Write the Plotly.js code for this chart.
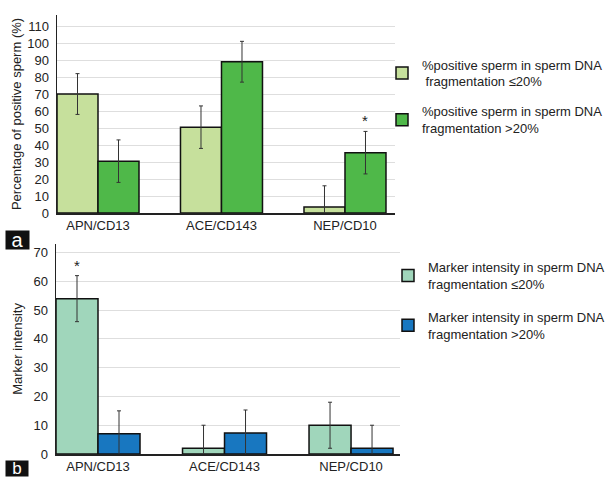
<!DOCTYPE html>
<html>
<head>
<meta charset="utf-8">
<script src="https://cdn.plot.ly/plotly-3.0.1.min.js"></script>
<style>html,body{margin:0;padding:0;background:#fff;}#chart{width:610px;height:477px;}</style>
</head>
<body>
<div id="chart"></div>
<script>
// ---- data ----
const categories = ["APN/CD13", "ACE/CD143", "NEP/CD10"];

const pctLowFrag = [70, 50.5, 3.5];
const pctLowFragErr = [12, 12.5, 12.5];
const pctHighFrag = [30.5, 89, 35.5];
const pctHighFragErr = [12.5, 12, 12.5];

const intLowFrag = [54, 2, 10];
const intLowFragErr = [8, 8, 8];
const intHighFrag = [7, 7.3, 2];
const intHighFragErr = [8, 8, 8];

const topTicks = [0,10,20,30,40,50,60,70,80,90,100,110];
const bottomTicks = [0,10,20,30,40,50,60,70];

const nameTop1 = "%positive sperm in sperm DNA<br>\u00a0fragmentation \u226420%";
const nameTop2 = "%positive sperm in sperm DNA<br>fragmentation >20%";
const nameBot1 = "Marker intensity in sperm DNA<br>fragmentation \u226420%";
const nameBot2 = "Marker intensity in sperm DNA<br>fragmentation >20%";

// ---- style ----
const FONT = "Liberation Sans, Arial, sans-serif";
const errStyle = (arr) => ({type:"data", array:arr, visible:true, color:"#333", thickness:1, width:2});
const outline = {color:"#111", width:1.5};

const traces = [
  {type:"bar", x:categories, y:pctLowFrag, name:nameTop1, xaxis:"x", yaxis:"y",
   marker:{color:"#c6e09c", line:outline}, error_y:errStyle(pctLowFragErr), legend:"legend", legendgroup:"a1"},
  {type:"bar", x:categories, y:pctHighFrag, name:nameTop2, xaxis:"x", yaxis:"y",
   marker:{color:"#4fb849", line:outline}, error_y:errStyle(pctHighFragErr), legend:"legend", legendgroup:"a2"},
  {type:"bar", x:categories, y:intLowFrag, name:nameBot1, xaxis:"x2", yaxis:"y2",
   marker:{color:"#a0d6bb", line:outline}, error_y:errStyle(intLowFragErr), legend:"legend2", legendgroup:"b1"},
  {type:"bar", x:categories, y:intHighFrag, name:nameBot2, xaxis:"x2", yaxis:"y2",
   marker:{color:"#1877c0", line:outline}, error_y:errStyle(intHighFragErr), legend:"legend2", legendgroup:"b2"}
];

const W = 344, H = 439; // plot area (l=56, t=15)
const px = (x) => (x - 56) / W;
const py = (y) => (454 - y) / H;

const xcommon = {type:"category", showgrid:false, showline:true, linecolor:"#222", linewidth:1.5,
  ticks:"", tickfont:{family:FONT, size:13, color:"#222"}, fixedrange:true, zeroline:false};
const ycommon = {showgrid:true, gridcolor:"#dedede", gridwidth:1, showline:true, linecolor:"#222", linewidth:1.5,
  ticks:"", tickfont:{family:FONT, size:13, color:"#222"}, zeroline:false, ticklabelstandoff:4};

const layout = {
  width:610, height:477,
  margin:{l:56, r:210, t:15, b:23, autoexpand:false},
  paper_bgcolor:"#fff", plot_bgcolor:"#fff",
  font:{family:FONT, size:13, color:"#222"},
  barmode:"group", bargap:0.336, bargroupgap:0,
  showlegend:true,
  xaxis:Object.assign({}, xcommon, {domain:[px(57), px(395)], range:[-0.332, 2.405], anchor:"y"}),
  yaxis:Object.assign({}, ycommon, {domain:[py(213), 1], range:[0, 116.5], tickvals:topTicks, anchor:"x",
    title:{text:"Percentage of positive sperm (%)", font:{family:FONT, size:13, color:"#222"}, standoff:2}}),
  xaxis2:Object.assign({}, xcommon, {domain:[0, 1], range:[-0.332, 2.387], anchor:"y2"}),
  yaxis2:Object.assign({}, ycommon, {domain:[0, py(244)], range:[0, 73], tickvals:bottomTicks, anchor:"x2",
    title:{text:"Marker intensity", font:{family:FONT, size:13, color:"#222"}, standoff:8}}),
  legend:{x:px(382), y:py(49.5), xanchor:"left", yanchor:"top", bgcolor:"rgba(0,0,0,0)",
    font:{family:FONT, size:13, color:"#222"}, tracegroupgap:10, traceorder:"grouped", itemwidth:30},
  legend2:{x:px(388), y:py(252), xanchor:"left", yanchor:"top", bgcolor:"rgba(0,0,0,0)",
    font:{family:FONT, size:13, color:"#222"}, tracegroupgap:13, traceorder:"grouped", itemwidth:30},
  annotations:[
    {xref:"x", yref:"y", x:2, y:pctHighFrag[2] + pctHighFragErr[2], text:"*", showarrow:false,
     xshift:20.5, yanchor:"bottom", font:{family:FONT, size:15, color:"#222"}},
    {xref:"x2", yref:"y2", x:0, y:intLowFrag[0] + intLowFragErr[0], text:"*", showarrow:false,
     xshift:-21, yanchor:"bottom", font:{family:FONT, size:15, color:"#222"}},
    {xref:"paper", yref:"paper", x:px(17.5), y:py(240), text:"a", showarrow:false, bgcolor:"#111",
     font:{family:FONT, size:20, color:"#fff"}, borderpad:0, width:23, height:18, xanchor:"center", yanchor:"middle"},
    {xref:"paper", yref:"paper", x:px(17), y:py(468), text:"b", showarrow:false, bgcolor:"#111",
     font:{family:FONT, size:17, color:"#fff"}, borderpad:0, width:22, height:15, xanchor:"center", yanchor:"middle"}
  ]
};

Plotly.newPlot("chart", traces, layout, {displayModeBar:false, staticPlot:true});
</script>
</body>
</html>
